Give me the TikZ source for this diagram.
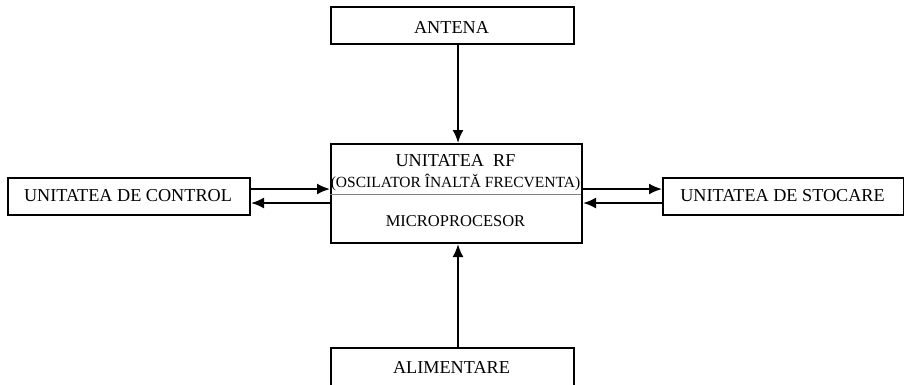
\documentclass[tikz,border=0pt]{standalone}
\usepackage{fontspec}
\setmainfont{Liberation Serif}
\usetikzlibrary{arrows.meta}
\begin{document}
\begin{tikzpicture}[x=1pt,y=-1pt,
  box/.style={draw,line width=2pt,inner sep=0pt,anchor=north west},
  big/.style={font=\fontsize{18.2}{20}\selectfont},
  small/.style={font=\fontsize{15.5}{17}\selectfont},
  mid/.style={font=\fontsize{16.5}{18}\selectfont},
  arr/.style={line width=2pt,-{Latex[length=13pt,width=11pt]}}]
\useasboundingbox (0,0) rectangle (904,384);
\node[box,minimum width=243,minimum height=37] (ant) at (330,6) {};
\node[big] (antt) at (451.5,27) {ANTENA};
\node[box,minimum width=251,minimum height=99] (rf) at (330,143) {};
\draw[gray,line width=1pt] (330,194) -- (581,194) coordinate (sepR);
\node[big] (rft) at (455.5,160.5) {UNITATEA\ \ RF};
\node[small] (osc) at (455.5,182) {(OSCILATOR ÎNALTĂ FRECVENTA)};
\node[mid] (mp) at (455.5,221.5) {MICROPROCESOR};
\node[box,minimum width=242,minimum height=37] (ctl) at (7,177) {};
\node[big] (ctlt) at (128,195.5) {UNITATEA DE CONTROL};
\node[box,minimum width=241,minimum height=37] (sto) at (662,177) {};
\node[big] (stot) at (782.5,195.5) {UNITATEA DE STOCARE};
\node[box,minimum width=243,minimum height=42] (ali) at (330,347) {};
\node[big] (alit) at (451.5,367) {ALIMENTARE};
\draw[arr] ([xshift=5.5pt]ant.south) -- ([xshift=5.5pt]ant.south |- rf.north);
\draw[arr] ([xshift=5.5pt]ali.north) -- ([xshift=5.5pt]ali.north |- rf.south);
\draw[arr] ([yshift=7.5pt]ctl.east) -- ([yshift=7.5pt]ctl.east -| rf.west);
\draw[arr] ([yshift=-6.5pt]ctl.east -| rf.west) -- ([yshift=-6.5pt]ctl.east);
\draw[arr] ([yshift=7.5pt]sto.west -| rf.east) -- ([yshift=7.5pt]sto.west);
\draw[arr] ([yshift=-6.5pt]sto.west) -- ([yshift=-6.5pt]sto.west -| rf.east);
\end{tikzpicture}
\end{document}
